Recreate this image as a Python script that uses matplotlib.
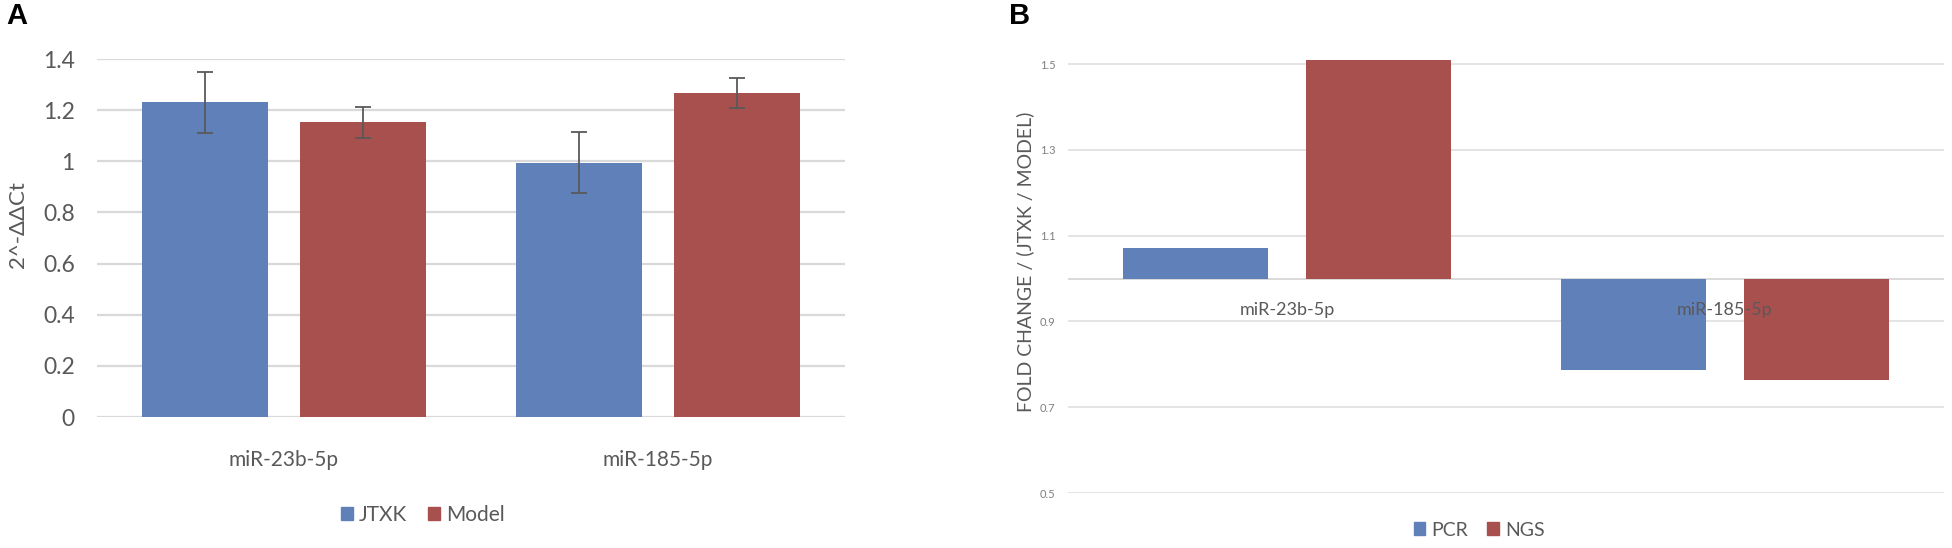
import matplotlib
matplotlib.use("Agg")
import matplotlib.pyplot as plt
from matplotlib.patches import Patch

# ---------------- data ----------------
categories = ["miR-23b-5p", "miR-185-5p"]

# Panel A: 2^-ΔΔCt
jtxk_vals = [1.231, 0.995]
jtxk_err = [0.120, 0.120]
model_vals = [1.152, 1.267]
model_err = [0.060, 0.058]
a_yticks = [0, 0.2, 0.4, 0.6, 0.8, 1.0, 1.2, 1.4]
a_yticklabels = ["0", "0.2", "0.4", "0.6", "0.8", "1", "1.2", "1.4"]

# Panel B: fold change (JTXK / Model), bars drawn from baseline 1.0
pcr_vals = [1.071, 0.786]
ngs_vals = [1.509, 0.763]
b_yticks = [0.5, 0.7, 0.9, 1.1, 1.3, 1.5]
b_yticklabels = ["0.5", "0.7", "0.9", "1.1", "1.3", "1.5"]
b_baseline = 1.0

BLUE = "#6080BA"
RED = "#A8504E"
TXT = "#595959"
GRID = "#D9D9D9"
FONT = ["Lato", "DejaVu Sans"]

W, H = 1952, 548
fig = plt.figure(figsize=(W / 100, H / 100), dpi=100)
plt.rcParams["font.family"] = FONT

def fx(px):
    return px / W

def fy(py):
    return 1 - py / H

# ---------------- Panel A ----------------
axA = fig.add_axes([fx(97), fy(417), fx(845) - fx(97), fy(59) - fy(417)])
x = [0, 1]
bw = 0.337
off = 0.21
axA.bar([i - off for i in x], jtxk_vals, width=bw, color=BLUE, zorder=2,
        yerr=jtxk_err, error_kw=dict(ecolor=TXT, elinewidth=1.3, capsize=5.5, capthick=1.3, zorder=3))
axA.bar([i + off for i in x], model_vals, width=bw, color=RED, zorder=2,
        yerr=model_err, error_kw=dict(ecolor=TXT, elinewidth=1.3, capsize=5.5, capthick=1.3, zorder=3))
axA.set_xlim(-0.5, 1.5)
axA.set_ylim(0, 1.4)
axA.set_yticks(a_yticks)
axA.set_yticklabels(a_yticklabels)
axA.set_xticks(x)
axA.set_xticklabels(categories)
axA.yaxis.grid(True, color=GRID, linewidth=1.6, zorder=0)
axA.set_axisbelow(True)
for s in axA.spines.values():
    s.set_visible(False)
axA.tick_params(axis="y", length=0, pad=16, labelsize=16.5, labelcolor=TXT)
axA.tick_params(axis="x", length=0, pad=24, labelsize=15, labelcolor=TXT)

fig.text(fx(18), fy(225), "2^-ΔΔCt", rotation=90, ha="center", va="center",
         fontsize=16, color=TXT)
fig.text(fx(6), fy(16), "A", ha="left", va="center", fontsize=21,
         fontweight="bold", family=["Liberation Sans", "DejaVu Sans"], color="black")

legA = axA.legend(handles=[Patch(color=BLUE, label="JTXK"), Patch(color=RED, label="Model")],
                  loc="center", bbox_to_anchor=(fx(423), fy(515)), bbox_transform=fig.transFigure,
                  ncol=2, frameon=False, fontsize=15, handlelength=0.55, handleheight=0.55,
                  handletextpad=0.3, columnspacing=1.0, borderpad=0)
for t in legA.get_texts():
    t.set_color(TXT)

# ---------------- Panel B ----------------
b_top = 1.52
axB = fig.add_axes([fx(1068), fy(493), fx(1944) - fx(1068), fy(493 - (b_top - 0.5) * 429) - fy(493)])
bwB = 0.333
offB = 0.209
axB.bar([i - offB for i in x], [v - b_baseline for v in pcr_vals], bottom=b_baseline,
        width=bwB, color=BLUE, zorder=2)
axB.bar([i + offB for i in x], [v - b_baseline for v in ngs_vals], bottom=b_baseline,
        width=bwB, color=RED, zorder=2)
axB.set_xlim(-0.5, 1.5)
axB.set_ylim(0.5, b_top)
axB.set_yticks(b_yticks)
axB.set_yticklabels(b_yticklabels)
axB.set_xticks([])
axB.yaxis.grid(True, color="#DCDCDC", linewidth=1.1, zorder=0)
axB.axhline(b_baseline, color=GRID, linewidth=1.4, zorder=1)
axB.set_axisbelow(True)
for s in axB.spines.values():
    s.set_visible(False)
axB.tick_params(axis="y", length=0, pad=9, labelsize=8, labelcolor="#7F7F7F")
for i, c in enumerate(categories):
    axB.annotate(c, xy=(i, b_baseline), xytext=(0, -31), textcoords="offset pixels",
                 ha="center", va="center", fontsize=13, color=TXT, zorder=4)

fig.text(fx(1025), fy(262), "FOLD CHANGE / (JTXK / MODEL)", rotation=90, ha="center",
         va="center", fontsize=14, color=TXT)
fig.text(fx(1009), fy(16), "B", ha="left", va="center", fontsize=21,
         fontweight="bold", family=["Liberation Sans", "DejaVu Sans"], color="black")

legB = axB.legend(handles=[Patch(color=BLUE, label="PCR"), Patch(color=RED, label="NGS")],
                  loc="center", bbox_to_anchor=(fx(1479), fy(530)), bbox_transform=fig.transFigure,
                  ncol=2, frameon=False, fontsize=14, handlelength=0.6, handleheight=0.6,
                  handletextpad=0.3, columnspacing=1.0, borderpad=0)
for t in legB.get_texts():
    t.set_color(TXT)

fig.savefig("out.png", dpi=100)
